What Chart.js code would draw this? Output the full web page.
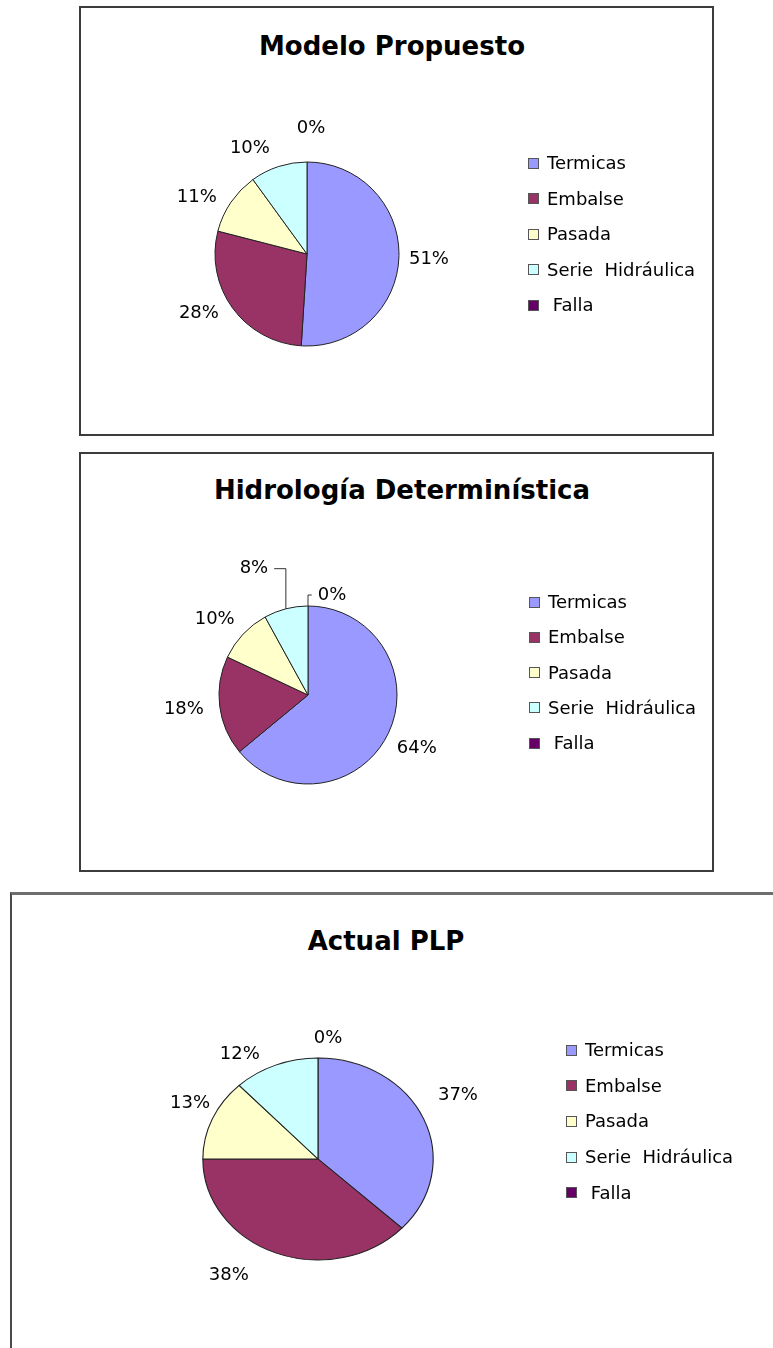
<!DOCTYPE html>
<html>
<head>
<meta charset="utf-8">
<script src="https://cdn.jsdelivr.net/npm/chart.js@4.4.1/dist/chart.umd.min.js"></script>
<style>
  body { margin: 0; width: 773px; height: 1348px; overflow: hidden; background: #fff; position: relative; font-family: "DejaVu Sans", sans-serif; }
  .box { position: absolute; box-sizing: border-box; border: 2px solid #3c3c3c; }
  .box.open { border-right: none; border-bottom: none; border-top: 3px solid #6e6e6e; border-left: 2px solid #4a4a4a; }
  .title { position: absolute; width: 600px; text-align: center; font-weight: bold; font-size: 26px; line-height: 26px; color: #000; white-space: nowrap; }
  .legend-item { position: absolute; height: 20px; line-height: 20px; font-size: 18px; color: #000; white-space: pre; display: flex; align-items: center; }
  .sq { display: inline-block; width: 9px; height: 9px; border: 1px solid #555; margin-right: 8px; }
  canvas { position: absolute; left: 0; }
</style>
</head>
<body>
<div class="box" style="left:79px;top:6px;width:635px;height:430px"></div>
<div class="box" style="left:79px;top:452px;width:635px;height:420px"></div>
<div class="box open" style="left:10px;top:892px;width:800px;height:500px"></div>

<script>
const categories = ["Termicas", "Embalse", "Pasada", "Serie  Hidráulica", " Falla"];
const titles = ["Modelo Propuesto", "Hidrología Determinística", "Actual PLP"];

// % de generación por tipo
const modeloPropuesto = [51, 28, 11, 10, 0];
const hidrologiaDet = [64, 18, 10, 8, 0];
const actualPLP = [37, 38, 13, 12, 0];

const colors = ["#9999FF", "#993366", "#FFFFCC", "#CCFFFF", "#660066"];

// donde va cada torta en la pagina
const layouts = [
  { top: 0, h: 445, cx: 307, cy: 254, r: 92, sx: 1, titleX: 392, titleBase: 55, legX: 528, legY: 163, legStep: 35.5,
    shift: [[2, 2], [-11, -11], [-11, 11], [-20, 8], [4, -6]], leader: [] },
  { top: 445, h: 440, cx: 308, cy: 695, r: 89, sx: 1, titleX: 402, titleBase: 499, legX: 529, legY: 602, legStep: 35.3,
    shift: [[3, 4], [-8, 0], [-8, 4], [-25, -13], [24, 17]], leader: [3, 4] },
  { top: 885, h: 463, cx: 318, cy: 1159, r: 101, sx: 1.14, titleX: 386, titleBase: 950, legX: 566, legY: 1050, legStep: 35.7,
    shift: [[5, -12], [-35, -4], [7, -4], [-24, 15], [10, 8]], leader: [] }
];

const pieLabels = {
  id: "pieLabels",

  beforeDatasetsDraw(chart, args, opts) {
    const arc = chart.getDatasetMeta(0).data[0];
    const { ctx } = chart;
    // torta un poco ovalada (como Excel)
    ctx.save();
    ctx.translate(arc.x, arc.y);
    ctx.scale(opts.sx, 1);
    ctx.translate(-arc.x, -arc.y);
  },

  afterDatasetsDraw(chart, args, opts) {
    const { ctx } = chart;
    ctx.restore();

    const meta = chart.getDatasetMeta(0);
    const data = chart.data.datasets[0].data;
    const total = data.reduce((a, b) => a + b, 0);

    ctx.save();
    ctx.font = "18px 'DejaVu Sans'";
    ctx.fillStyle = "#000";
    ctx.strokeStyle = "#333";
    ctx.lineWidth = 1;
    ctx.textAlign = "center";
    ctx.textBaseline = "middle";

    meta.data.forEach((a, i) => {
      const mid = (a.startAngle + a.endAngle) / 2;
      const R = a.outerRadius + 28;
      const s = opts.shift[i] || [0, 0];
      const x = a.x + Math.cos(mid) * R * opts.sx + s[0];
      const y = a.y + Math.sin(mid) * R + s[1];
      const txt = Math.round(data[i] / total * 100) + "%";
      ctx.fillText(txt, x, y);

      if (opts.leader.includes(i)) {
        const ex = a.x + Math.cos(mid) * a.outerRadius * opts.sx;
        const ey = a.y + Math.sin(mid) * a.outerRadius;
        const w = ctx.measureText(txt).width;
        const side = x < ex ? x + w / 2 + 6 : x - w / 2 - 6;
        ctx.beginPath();
        ctx.moveTo(ex, ey);
        ctx.lineTo(ex, y);
        ctx.lineTo(side, y);
        ctx.stroke();
      }
    });
    ctx.restore();
  }
};

function renderLegend(L) {
  categories.forEach((c, i) => {
    const row = document.createElement("div");
    row.className = "legend-item";
    row.style.left = L.legX + "px";
    row.style.top = (L.legY + i * L.legStep - 10) + "px";
    row.innerHTML = `<span class="sq" style="background:${colors[i]}"></span>${c}`;
    document.body.appendChild(row);
  });
}

function renderPie(values, title, L) {
  const t = document.createElement("div");
  t.className = "title";
  t.textContent = title;
  t.style.left = (L.titleX - 300) + "px";
  t.style.top = (L.titleBase - 22) + "px";
  document.body.appendChild(t);

  const cv = document.createElement("canvas");
  cv.width = 773;
  cv.height = L.h;
  cv.style.top = L.top + "px";
  document.body.appendChild(cv);

  const cyLocal = L.cy - L.top;

  new Chart(cv, {
    type: "pie",
    data: {
      labels: categories,
      datasets: [{
        data: values,
        backgroundColor: colors,
        borderColor: "#222",
        borderWidth: 1,
        clip: false
      }]
    },
    options: {
      responsive: false,
      animation: false,
      events: [],
      layout: {
        padding: {
          left: L.cx - L.r - 0.5,
          right: 773 - (L.cx + L.r + 0.5),
          top: cyLocal - L.r - 0.5,
          bottom: L.h - (cyLocal + L.r + 0.5)
        }
      },
      plugins: {
        legend: { display: false },
        tooltip: { enabled: false },
        pieLabels: { sx: L.sx, shift: L.shift, leader: L.leader }
      }
    },
    plugins: [pieLabels]
  });

  renderLegend(L);
}

renderPie(modeloPropuesto, titles[0], layouts[0]);
renderPie(hidrologiaDet, titles[1], layouts[1]);
renderPie(actualPLP, titles[2], layouts[2]);
</script>
</body>
</html>
